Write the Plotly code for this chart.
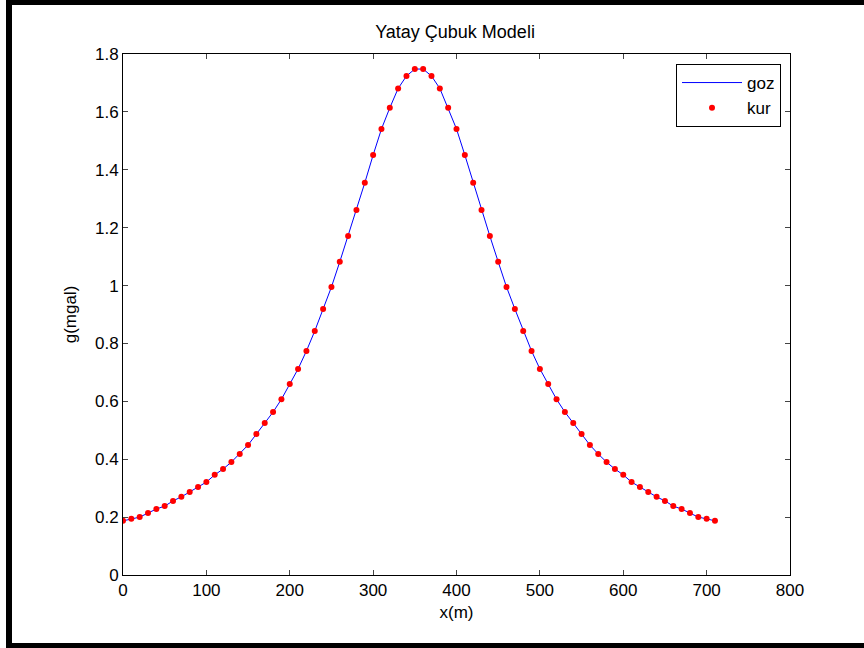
import plotly.graph_objects as go

x_m = list(range(0, 720, 10))
goz = [0.187, 0.194, 0.200, 0.214, 0.228, 0.238, 0.256, 0.270, 0.287, 0.304,
       0.321, 0.346, 0.366, 0.390, 0.418, 0.449, 0.487, 0.525, 0.563, 0.607,
       0.660, 0.712, 0.774, 0.843, 0.919, 0.995, 1.082, 1.171, 1.261, 1.355,
       1.451, 1.541, 1.614, 1.681, 1.724, 1.748,
       1.748, 1.724, 1.681, 1.614, 1.541, 1.451, 1.355, 1.261, 1.171, 1.082,
       0.995, 0.919, 0.843, 0.774, 0.712, 0.660, 0.607, 0.563, 0.525, 0.487,
       0.449, 0.418, 0.390, 0.366, 0.346, 0.321, 0.304, 0.287, 0.270, 0.256,
       0.238, 0.228, 0.214, 0.200, 0.194, 0.187]
kur = list(goz)

x_ticks = [0, 100, 200, 300, 400, 500, 600, 700, 800]
y_ticks = [0, 0.2, 0.4, 0.6, 0.8, 1, 1.2, 1.4, 1.6, 1.8]
y_tick_text = ["0", "0.2", "0.4", "0.6", "0.8", "1", "1.2", "1.4", "1.6", "1.8"]

FONT = "Liberation Sans Narrow, Arial Narrow, Liberation Sans, Arial, sans-serif"

fig = go.Figure()
fig.add_trace(go.Scatter(x=x_m, y=goz, mode="lines", name="goz",
                         line=dict(color="#0000ff", width=1)))
fig.add_trace(go.Scatter(x=x_m, y=kur, mode="markers", name="kur",
                         marker=dict(color="#ff0000", size=6, symbol="circle")))

L, R, T, B = 123, 790, 54, 575
W, H = 864, 648
pw, ph = R - L, B - T

def px(v):
    return (v - L) / pw

def py(v):
    return (B - v) / ph

shapes = [
    dict(type="rect", xref="paper", yref="paper", x0=px(6), x1=px(864), y0=py(0), y1=py(5),
         fillcolor="black", line=dict(width=0), layer="above"),
    dict(type="rect", xref="paper", yref="paper", x0=px(6), x1=px(12), y0=py(0), y1=py(648),
         fillcolor="black", line=dict(width=0), layer="above"),
    dict(type="rect", xref="paper", yref="paper", x0=px(6), x1=px(864), y0=py(643), y1=py(648),
         fillcolor="black", line=dict(width=0), layer="above"),
]

fig.update_layout(
    width=W, height=H,
    margin=dict(l=L, r=W - R, t=T, b=H - B),
    paper_bgcolor="white", plot_bgcolor="white",
    font=dict(family=FONT, size=17, color="black"),
    title=dict(text="Yatay Çubuk Modeli", x=(455) / W, xanchor="center",
               y=1 - 32 / H, yanchor="middle", font=dict(size=18)),
    showlegend=True,
    legend=dict(x=px(781), y=py(64), xanchor="right", yanchor="top",
                bgcolor="white", bordercolor="black", borderwidth=1,
                font=dict(size=17), itemwidth=60, tracegroupgap=0),
    shapes=shapes,
)
fig.update_xaxes(range=[0, 800], tickvals=x_ticks, ticks="inside", ticklen=5,
                 showline=True, linecolor="black", linewidth=1, mirror="ticks",
                 showgrid=False, zeroline=False,
                 title=dict(text="x(m)", font=dict(size=17), standoff=6),
                 tickfont=dict(size=17))
fig.update_yaxes(range=[0, 1.8], tickvals=y_ticks, ticktext=y_tick_text,
                 ticks="inside", ticklen=5,
                 showline=True, linecolor="black", linewidth=1, mirror="ticks",
                 showgrid=False, zeroline=False,
                 title=dict(text="g(mgal)", font=dict(size=17), standoff=14),
                 tickfont=dict(size=17))

fig.write_html("out.html")
